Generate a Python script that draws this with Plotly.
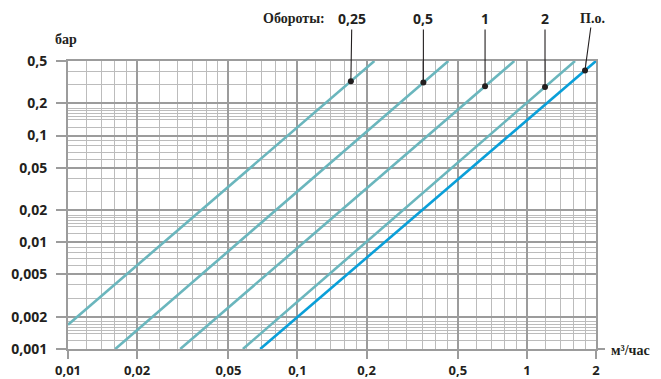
import math
import plotly.graph_objects as go

# ---- data ----
series_names = ["0,25", "0,5", "1", "2", "П.о."]
q_start = [0.01, 0.01607, 0.03084, 0.05784, 0.0688]      # м³/час
dp_start = [0.001687, 0.001, 0.001, 0.001, 0.001]          # бар
q_end = [0.2164, 0.4546, 0.881, 1.620, 2.0]
dp_end = [0.5, 0.5, 0.5, 0.5, 0.5]
marker_q = [0.1709, 0.3538, 0.657, 1.199, 1.791]
series_colors = ["#6ab6bd", "#6ab6bd", "#6ab6bd", "#6ab6bd", "#0a9fd8"]
label_shift_x = [1, 0, 0, 0, 7]

x_tickvals = [0.01, 0.02, 0.05, 0.1, 0.2, 0.5, 1, 2]
x_ticktext = ["0,01", "0,02", "0,05", "0,1", "0,2", "0,5", "1", "2"]
y_tickvals = [0.001, 0.002, 0.005, 0.01, 0.02, 0.05, 0.1, 0.2, 0.5]
y_ticktext = ["0,001", "0,002", "0,005", "0,01", "0,02", "0,05", "0,1", "0,2", "0,5"]

x_minor_mult = [1.2, 1.4, 1.6, 1.8, 2.5, 3, 3.5, 4, 4.5, 6, 7, 8, 9]
y_minor_mult = [1.2, 1.4, 1.5, 1.6, 1.7, 1.8, 3, 4, 6, 7, 8, 9]

X_MIN, X_MAX = 0.01, 2.0
Y_MIN, Y_MAX = 0.001, 0.5

x_minor = [d * m for d in (0.01, 0.1, 1) for m in x_minor_mult if d * m < X_MAX]
y_minor = [d * m for d in (0.001, 0.01, 0.1) for m in y_minor_mult if d * m < Y_MAX]

W, H = 661, 379
ML, MR, MT, MB = 68, 65, 61, 30
PH = H - MT - MB
PW = W - ML - MR

TEXT = "#231f20"
MAJOR = "#9c9c9c"
MINOR = "#bcbcbc"
NUM_FONT = dict(family="Noto Sans", size=14, color=TEXT, weight="bold")
XNUM_FONT = dict(family="Noto Sans", size=13, color=TEXT, weight="bold")
SERIF_FONT = dict(family="Liberation Serif", size=14, color=TEXT, weight="bold")

fig = go.Figure()

for i, name in enumerate(series_names):
    fig.add_trace(go.Scatter(
        x=[q_start[i], q_end[i]], y=[dp_start[i], dp_end[i]],
        mode="lines", line=dict(color=series_colors[i], width=2.6),
        name=name, hoverinfo="skip"))


def on_line(i, q):
    lx0, lx1 = math.log10(q_start[i]), math.log10(q_end[i])
    ly0, ly1 = math.log10(dp_start[i]), math.log10(dp_end[i])
    t = (math.log10(q) - lx0) / (lx1 - lx0)
    return 10 ** (ly0 + t * (ly1 - ly0))


marker_dp = [on_line(i, q) for i, q in enumerate(marker_q)]

fig.add_trace(go.Scatter(
    x=marker_q, y=marker_dp, mode="markers",
    marker=dict(color=TEXT, size=6), hoverinfo="skip", showlegend=False))

ly_top = math.log10(Y_MAX)
ly_bot = math.log10(Y_MIN)
label_y_px = 18.5
for i, name in enumerate(series_names):
    dot_px = MT + (ly_top - math.log10(marker_dp[i])) / (ly_top - ly_bot) * PH
    fig.add_annotation(
        x=math.log10(marker_q[i]), y=math.log10(marker_dp[i]), xref="x", yref="y",
        text=name, showarrow=True, arrowhead=0, arrowwidth=1.1, arrowcolor=TEXT,
        ax=label_shift_x[i], ay=label_y_px - dot_px, standoff=0,
        font=SERIF_FONT if name == "П.о." else NUM_FONT)

fig.add_annotation(x=(293.5 - ML) / PW, y=(H - MB - label_y_px) / PH, xref="paper", yref="paper",
                   text="Обороты:", showarrow=False, xanchor="center", yanchor="middle",
                   font=SERIF_FONT)
fig.add_annotation(x=(66 - ML) / PW, y=(H - MB - 39) / PH, xref="paper", yref="paper",
                   text="бар", showarrow=False, xanchor="center", yanchor="middle",
                   font=SERIF_FONT)
fig.add_annotation(x=(609 - ML) / PW, y=(H - MB - 350) / PH, xref="paper", yref="paper",
                   text="м³/час", showarrow=False, xanchor="left", yanchor="middle",
                   font=SERIF_FONT)

fig.add_shape(type="line", xref="paper", yref="paper", x0=1, x1=(605 - ML) / PW, y0=0, y1=0,
              line=dict(color=MAJOR, width=2))

fig.update_xaxes(
    type="log", range=[math.log10(X_MIN), math.log10(X_MAX)], automargin=False,
    tickmode="array", tickvals=x_tickvals, ticktext=x_ticktext,
    ticks="outside", ticklen=8, tickwidth=2, tickcolor=MAJOR,
    showgrid=True, gridcolor=MAJOR, gridwidth=2,
    showline=True, linecolor=MAJOR, linewidth=2, mirror=True,
    zeroline=False, tickfont=XNUM_FONT,
    minor=dict(tickmode="array", tickvals=x_minor, showgrid=True,
               gridcolor=MINOR, gridwidth=1.2, ticks=""),
)
fig.update_yaxes(
    type="log", range=[math.log10(Y_MIN), math.log10(Y_MAX)], automargin=False,
    tickmode="array", tickvals=y_tickvals, ticktext=y_ticktext,
    ticks="outside", ticklen=10, tickwidth=2, tickcolor=MAJOR,
    showgrid=True, gridcolor=MAJOR, gridwidth=2,
    showline=True, linecolor=MAJOR, linewidth=2, mirror=True,
    zeroline=False, tickfont=NUM_FONT, ticklabelstandoff=6,
    minor=dict(tickmode="array", tickvals=y_minor, showgrid=True,
               gridcolor=MINOR, gridwidth=1.2, ticks=""),
)

fig.update_layout(
    width=W, height=H, margin=dict(l=ML, r=MR, t=MT, b=MB, pad=0, autoexpand=False),
    paper_bgcolor="white", plot_bgcolor="white", showlegend=False,
)

fig.write_html("out.html")
